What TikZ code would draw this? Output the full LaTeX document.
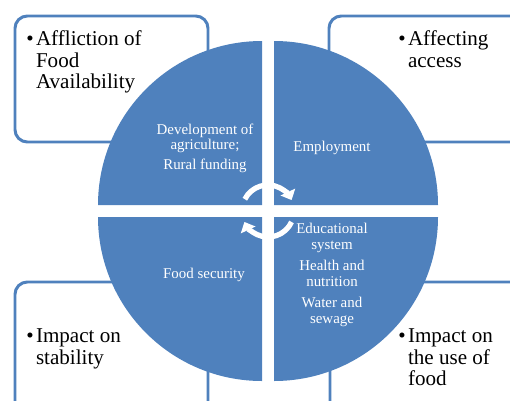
\documentclass[tikz,border=0pt]{standalone}
\usepackage{fontspec}
\setmainfont{Liberation Serif}
\usetikzlibrary{arrows.meta}
\definecolor{quadblue}{RGB}{79,129,189}
\newenvironment{bulletlines}{\begin{tabular}{@{}p{5.5pt}@{}l@{}}}{\end{tabular}}
\tikzset{
x=0.02cm, y=0.02cm, % one unit is one pixel of the 510x400 picture
quad/.style={fill=quadblue}, % sets the look of the four quarters of the disc
outerbox/.style={draw=quadblue, line width=1.7pt, fill=white, rounded corners=7pt}, % the four boxes behind the disc
boxtext/.style={anchor=north west, inner sep=0pt, font=\fontsize{12}{12.3}\selectfont}, % bullet text in the boxes
quadtext/.style={text=white, align=center, font=\fontsize{8.5}{9}\selectfont}, % white text on the disc
cyclearrow/.style={draw=white, line width=3pt, -{Triangle[width=9pt,length=5pt]}}, % the two arrows in the middle
}
\begin{document}
\begin{tikzpicture}
        \clip (0,0) rectangle (510,400);
        %% The four boxes go first, so that the disc covers their inner corners.
        \draw[outerbox] (15,384) rectangle (208,258);
        \draw[outerbox] (329,384) rectangle (560,258);
        \draw[outerbox] (15,118) rectangle (208,-50);
        \draw[outerbox] (330,118) rectangle (560,-50);
        \node[boxtext] (availText) at (26,370) {\begin{bulletlines}\textbullet & Affliction of\\ & Food\\ & Availability\end{bulletlines}};
        \node[boxtext] (accessText) at (398,370) {\begin{bulletlines}\textbullet & Affecting\\ & access\end{bulletlines}};
        \node[boxtext] (stabilityText) at (26,73) {\begin{bulletlines}\textbullet & Impact on\\ & stability\end{bulletlines}};
        \node[boxtext] (useText) at (398,73) {\begin{bulletlines}\textbullet & Impact on\\ & the use of\\ & food\end{bulletlines}};
        %% The disc is made of four quarters, each one pushed out a little from the middle.
        \foreach \cx/\cy/\a in {262/195/90, 274/195/0, 262/183/180, 274/183/270}
            \fill[quad] (\cx,\cy) -- ++(\a:164) arc[start angle=\a, delta angle=90, radius=164] -- cycle;
        \node[quadtext] (farming) at (205,252) {Development of\\agriculture;\\[2pt]Rural funding};
        \node[quadtext] (employment) at (332,252) {Employment};
        \node[quadtext] (security) at (204,125) {Food security};
        \node[quadtext] (services) at (332,125) {Educational\\system\\[3pt]Health and\\nutrition\\[3pt]Water and\\sewage};
        %% Two arrows turning round the middle.
        \coordinate (hub) at (268,189);
        \draw[cyclearrow] ([shift={(153:26)}]hub) arc[start angle=153, end angle=25, radius=26];
        \draw[cyclearrow] ([shift={(-25:26)}]hub) arc[start angle=-25, end angle=-155, radius=26];
    \end{tikzpicture}
\end{document}
